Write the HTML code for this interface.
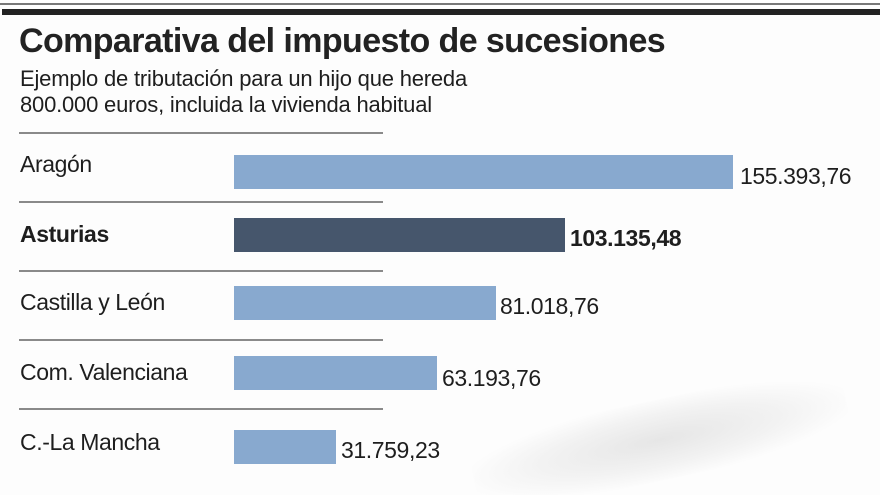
<!DOCTYPE html>
<html><head><meta charset="utf-8"><style>
html,body{margin:0;width:880px;height:495px;background:#fdfdfd;position:relative;overflow:hidden;font-family:"Liberation Sans",sans-serif;color:#1e1e1e}
.a{position:absolute}
.sep{position:absolute;left:19px;width:364px;height:2px;background:#8a8a8a}
.lab{position:absolute;left:20px;font-size:23px;letter-spacing:-0.4px}
.bar{position:absolute;left:234px;height:34px;background:#88a9cf}
.val{position:absolute;font-size:23px;letter-spacing:-0.4px}
</style></head><body>
<div class="a" style="left:0;top:3px;width:880px;height:2px;background:#777"></div>
<div class="a" style="left:2px;top:9px;width:878px;height:6px;background:#222"></div>
<div class="a" style="left:470px;top:400px;width:380px;height:80px;background:radial-gradient(ellipse at center,#e6e6e6 0%,#f2f2f2 45%,rgba(253,253,253,0) 75%);transform:rotate(-12deg)"></div>
<div class="a" style="left:19px;top:22px;font-size:34px;font-weight:bold;letter-spacing:-0.6px;color:#222">Comparativa del impuesto de sucesiones</div>
<div class="a" style="left:20px;top:66px;font-size:22px;line-height:26px;letter-spacing:-0.2px">Ejemplo de tributación para un hijo que hereda<br>800.000 euros, incluida la vivienda habitual</div>
<div class="sep" style="top:132px"></div>
<div class="sep" style="top:201px"></div>
<div class="sep" style="top:270px"></div>
<div class="sep" style="top:339px"></div>
<div class="sep" style="top:408px"></div>
<div class="lab" style="top:151px">Aragón</div>
<div class="lab" style="top:221px;font-weight:bold">Asturias</div>
<div class="lab" style="top:289px">Castilla y León</div>
<div class="lab" style="top:359px">Com. Valenciana</div>
<div class="lab" style="top:429px">C.-La Mancha</div>
<div class="bar" style="top:155px;width:499px"></div>
<div class="bar" style="top:218px;width:331px;background:#46566c"></div>
<div class="bar" style="top:286px;width:262px"></div>
<div class="bar" style="top:356px;width:203px"></div>
<div class="bar" style="top:430px;width:102px"></div>
<div class="val" style="left:740px;top:163px">155.393,76</div>
<div class="val" style="left:570px;top:225px;font-weight:bold">103.135,48</div>
<div class="val" style="left:500px;top:293px">81.018,76</div>
<div class="val" style="left:442px;top:365px">63.193,76</div>
<div class="val" style="left:341px;top:437px">31.759,23</div>
</body></html>
